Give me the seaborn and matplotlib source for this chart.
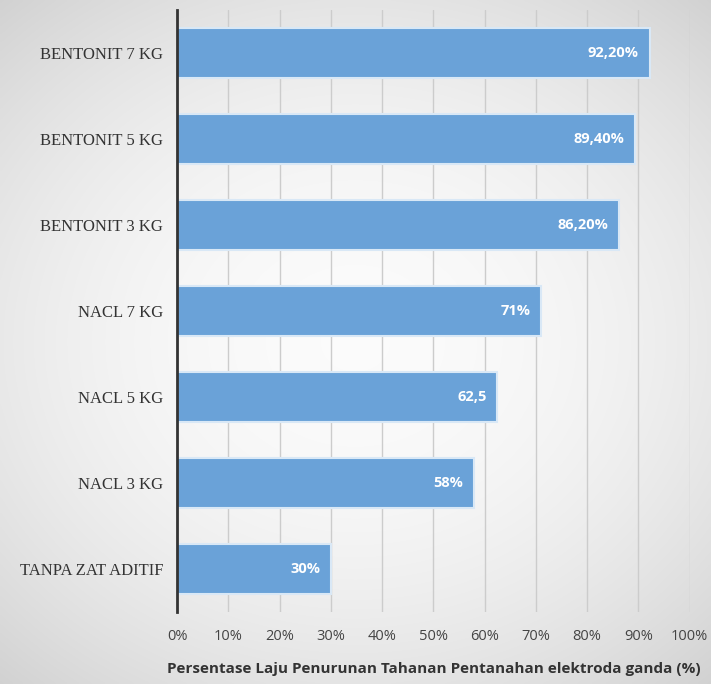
import numpy as np
import pandas as pd
import matplotlib.pyplot as plt
import seaborn as sns

categories = ['BENTONIT 7 KG', 'BENTONIT 5 KG', 'BENTONIT 3 KG', 'NACL 7 KG',
              'NACL 5 KG', 'NACL 3 KG', 'TANPA ZAT ADITIF']
values = [92.2, 89.4, 86.2, 71, 62.5, 58, 30]
value_labels = ['92,20%', '89,40%', '86,20%', '71%', '62,5', '58%', '30%']
tick_values = [0, 10, 20, 30, 40, 50, 60, 70, 80, 90, 100]

df = pd.DataFrame({'kategori': categories, 'persen': values})

sns.set_style("white")

fig = plt.figure(figsize=(7.11, 6.84), dpi=100)

# soft radial grey gradient behind everything
bg = fig.add_axes([0, 0, 1, 1], zorder=-10)
yy, xx = np.mgrid[-1:1:300j, -1:1:300j]
r2 = (xx * 0.85) ** 2 + (yy * 0.95) ** 2
shade = np.clip(0.985 - 0.10 * r2, 0, 1)
bg.imshow(np.dstack([shade, shade, shade]), extent=[0, 1, 0, 1],
          aspect='auto', interpolation='bicubic')
bg.axis('off')

ax = fig.add_axes([0.249, 0.105, 0.721, 0.880])
ax.patch.set_alpha(0)

sns.barplot(data=df, x='persen', y='kategori', order=categories, orient='h',
            color='#6aa2d8', saturation=1, width=0.58, ax=ax,
            edgecolor='#d9e8f6', linewidth=1.5, zorder=3)

for i, (v, lab) in enumerate(zip(values, value_labels)):
    ax.text(v - 2.1, i, lab, ha='right', va='center', color='white',
            fontsize=10.5, fontweight='bold', family='Open Sans', zorder=4)

ax.set_xlim(0, 100)
ax.set_ylim(6.5, -0.5)
ax.set_xticks(tick_values)
ax.set_xticklabels([f'{t}%' for t in tick_values], family='Open Sans',
                   fontsize=10.5, color='#444444')
ax.tick_params(axis='x', length=0, pad=12)
ax.tick_params(axis='y', length=0, pad=10)
for lbl in ax.get_yticklabels():
    lbl.set_family('Liberation Serif')
    lbl.set_fontsize(12)
    lbl.set_color('#333333')

ax.grid(axis='x', color='#cccccc', linewidth=1, zorder=0)
ax.set_axisbelow(True)
for s in ['top', 'right', 'bottom']:
    ax.spines[s].set_visible(False)
ax.spines['left'].set_color('#333333')
ax.spines['left'].set_linewidth(2)
ax.spines['left'].set_zorder(5)

ax.set_ylabel('')
ax.set_xlabel('Persentase Laju Penurunan Tahanan Pentanahan elektroda ganda (%)',
              family='Open Sans', fontsize=11, fontweight='bold',
              color='#333333', labelpad=13)

fig.savefig('out.png', dpi=100)
